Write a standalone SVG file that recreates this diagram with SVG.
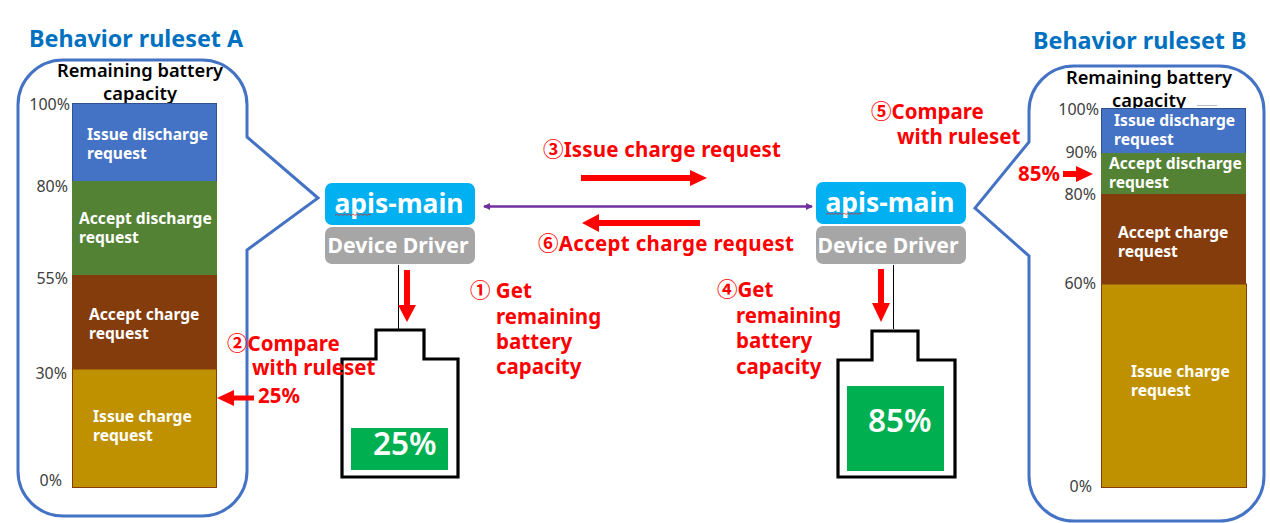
<svg xmlns="http://www.w3.org/2000/svg" width="1270" height="523" viewBox="0 0 1270 523">
<style>
text{font-family:"Noto Sans","Noto Sans CJK JP",sans-serif}
.title{font-size:23.300px;font-weight:700;fill:#0070C0}
.head{font-size:18.300px;font-weight:600;fill:#000;text-anchor:middle}
.pct{font-size:16px;fill:#404040;text-anchor:end}
.seg{font-size:15.600px;font-weight:700;fill:#fff}
.red{font-size:20.500px;font-weight:700;fill:#f00}
.callout{fill:#fff;stroke:#4472C4;stroke-width:3}
.batt{fill:#fff;stroke:#000;stroke-width:3.200;stroke-linejoin:miter}
.bigp{font-size:31.500px;font-weight:600;fill:#fff}
.apis{font-size:26.500px;font-weight:700;fill:#fff;text-anchor:middle}
.dd{font-size:21.200px;font-weight:700;fill:#fff;text-anchor:middle}
.ra{fill:#f00}
</style>
<defs>
<marker id="pa" markerWidth="7" markerHeight="7" refX="6" refY="3.500" orient="auto-start-reverse" markerUnits="userSpaceOnUse"><path d="M0 0L7 3.500L0 7z" fill="#7030A0"/></marker>
</defs>
<g id="rulesetA">
<path class="callout" d="M63 60H202A45 45 0 0 1 247 105V137L318 198L247 250V471A45 45 0 0 1 202 516H63A45 45 0 0 1 18 471V105A45 45 0 0 1 63 60Z"/>
<text class="title" x="29" y="47">Behavior ruleset A</text>
<text class="head" x="140" y="77">Remaining battery</text>
<text class="head" x="140" y="100">capacity</text>
<rect x="72.500" y="103.500" width="144" height="78" fill="#4472C4" stroke="#2F528F"/>
<rect x="72" y="181" width="145" height="94" fill="#548235"/>
<rect x="72" y="275" width="145" height="94" fill="#843C0C"/>
<rect x="72.500" y="369" width="144" height="118.500" fill="#BF9000" stroke="#843C0C"/>
<text class="seg"><tspan x="87" y="140">Issue discharge</tspan><tspan x="87" y="159">request</tspan></text>
<text class="seg"><tspan x="79" y="224">Accept discharge</tspan><tspan x="79" y="243">request</tspan></text>
<text class="seg"><tspan x="89" y="320">Accept charge</tspan><tspan x="89" y="339">request</tspan></text>
<text class="seg"><tspan x="93" y="422">Issue charge</tspan><tspan x="93" y="441">request</tspan></text>
<text class="pct" x="70" y="110">100%</text>
<text class="pct" x="68" y="192">80%</text>
<text class="pct" x="68" y="284">55%</text>
<text class="pct" x="67" y="379">30%</text>
<text class="pct" x="62" y="486">0%</text>
</g>
<g id="rulesetB">
<path class="callout" d="M1074 66H1219A45 45 0 0 1 1264 111V476A45 45 0 0 1 1219 521H1074A45 45 0 0 1 1029 476V256L975 208L1029 142V111A45 45 0 0 1 1074 66Z"/>
<text class="title" x="1033" y="49">Behavior ruleset B</text>
<text class="head" x="1149" y="84">Remaining battery</text>
<text class="head" x="1149" y="107">capacity</text>
<path d="M1197 105.500H1217" stroke="#bbb" fill="none"/>
<rect x="1101.500" y="108.500" width="144" height="45" fill="#4472C4" stroke="#2F528F"/>
<rect x="1101" y="153" width="145" height="41" fill="#548235"/>
<rect x="1101" y="194" width="145" height="90" fill="#843C0C"/>
<rect x="1101.500" y="284" width="145" height="203.500" fill="#BF9000" stroke="#843C0C"/>
<text class="seg"><tspan x="1114" y="126">Issue discharge</tspan><tspan x="1114" y="145">request</tspan></text>
<text class="seg"><tspan x="1109" y="169">Accept discharge</tspan><tspan x="1109" y="188">request</tspan></text>
<text class="seg"><tspan x="1118" y="238">Accept charge</tspan><tspan x="1118" y="257">request</tspan></text>
<text class="seg"><tspan x="1131" y="377">Issue charge</tspan><tspan x="1131" y="396">request</tspan></text>
<text class="pct" x="1099" y="115">100%</text>
<text class="pct" x="1097" y="158">90%</text>
<text class="pct" x="1096" y="200">80%</text>
<text class="pct" x="1096" y="289">60%</text>
<text class="pct" x="1092" y="492">0%</text>
</g>
<g id="nodeA">
<rect x="325" y="183" width="150" height="42" rx="7" fill="#00B0F0"/>
<text class="apis" x="399" y="213">apis-main</text>
<path d="M335 215.500l2-1.500 2 1.500 2-1.500 2 1.500 2-1.500 2 1.500 2-1.500 2 1.500 2-1.500 2 1.500 2-1.500 2 1.500 2-1.500 2 1.500 2-1.500 2 1.500 2-1.500 2 1.500" fill="none" stroke="#c33" stroke-width=".8"/>
<rect x="325" y="227" width="150" height="37" rx="7" fill="#A6A6A6"/>
<text class="dd" x="398" y="253">Device Driver</text>
</g>
<g id="nodeB">
<rect x="816" y="182" width="150" height="42" rx="7" fill="#00B0F0"/>
<text class="apis" x="890" y="212">apis-main</text>
<path d="M826 214.500l2-1.500 2 1.500 2-1.500 2 1.500 2-1.500 2 1.500 2-1.500 2 1.500 2-1.500 2 1.500 2-1.500 2 1.500 2-1.500 2 1.500 2-1.500 2 1.500 2-1.500 2 1.500" fill="none" stroke="#c33" stroke-width=".8"/>
<rect x="816" y="226" width="150" height="38" rx="7" fill="#A6A6A6"/>
<text class="dd" x="888" y="253">Device Driver</text>
</g>
<g id="batteryA">
<path class="batt" d="M376 330H424V359H458V477H342V359H376Z"/>
<rect x="351" y="428" width="97" height="42" fill="#00B050"/>
<text class="bigp" x="373" y="455">25%</text>
</g>
<g id="batteryB">
<path class="batt" d="M872 331H918V360H955V477H838V360H872Z"/>
<rect x="847" y="386" width="97" height="85" fill="#00B050"/>
<text class="bigp" x="868" y="432">85%</text>
</g>
<g id="connectors">
<path d="M398.500 265V330M893.500 265V329" stroke="#000" fill="none"/>
<path d="M484 206.500H812" stroke="#7030A0" stroke-width="2.500" fill="none" marker-start="url(#pa)" marker-end="url(#pa)"/>
<path class="ra" d="M581 175H690V170L707 178L690 186V181H581Z"/>
<path class="ra" d="M700 220H599V214L582 223L599 232V226H700Z"/>
<path class="ra" d="M404 270H410V305H416L407 322L398 305H404Z"/>
<path class="ra" d="M878 269H884V303H890L881 322L872 303H878Z"/>
<path class="ra" d="M254 395.500H234V390L217 398L234 406V400.500H254Z"/>
<path class="ra" d="M1063 171H1076V166L1093 174L1076 182V177H1063Z"/>
</g>
<g id="labels">
<text class="red" x="543" y="157" textLength="238">③Issue charge request</text>
<text class="red" x="538" y="251" textLength="256">⑥Accept charge request</text>
<text class="red"><tspan x="470" y="298">① Get</tspan><tspan x="496" y="324">remaining</tspan><tspan x="496" y="349">battery</tspan><tspan x="496" y="374">capacity</tspan></text>
<text class="red"><tspan x="717" y="297">④Get</tspan><tspan x="736" y="323">remaining</tspan><tspan x="736" y="348">battery</tspan><tspan x="736" y="374">capacity</tspan></text>
<text class="red"><tspan x="227" y="351">②Compare</tspan><tspan x="252" y="375">with ruleset</tspan></text>
<text class="red" x="258" y="403">25%</text>
<text class="red"><tspan x="871" y="119">⑤Compare</tspan><tspan x="897" y="144">with ruleset</tspan></text>
<text class="red" x="1018" y="181">85%</text>
</g>
</svg>
